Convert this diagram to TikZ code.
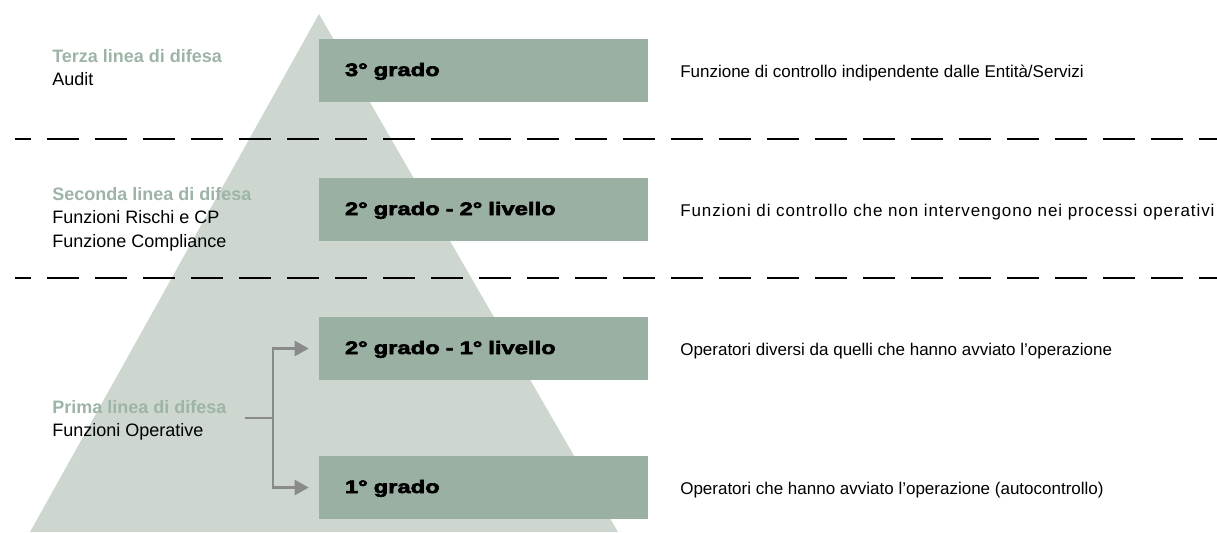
\documentclass[tikz,border=0pt]{standalone}
\usepackage{fontspec}
\setmainfont{Liberation Sans}
\newfontfamily\gradofont[BoldFeatures={FakeStretch=1.32,FakeBold=3.5}]{Liberation Sans}
\newfontfamily\largofont[LetterSpace=5.3]{Liberation Sans}
\usetikzlibrary{arrows.meta}
\definecolor{piramide}{HTML}{CDD7D0}
\definecolor{gradocol}{HTML}{9AB0A2}
\definecolor{lineacol}{HTML}{9DB4A6}
\definecolor{freccia}{HTML}{8A8A8A}

\begin{document}
\begin{tikzpicture}[x=0.75pt,y=-0.75pt,
    grado/.style={fill=gradocol,minimum height=47.25pt,text width=207.75pt,inner xsep=19.5pt,inner ysep=0pt,
      align=left,text height=9pt,text depth=0.75pt,font=\gradofont\bfseries\fontsize{13.5}{16}\selectfont},
    linea/.style={anchor=north west,inner sep=0pt,align=left,font=\fontsize{13.5}{17.6}\selectfont},
    descr/.style={anchor=base west,inner sep=0pt,font=\fontsize{12.75}{15}\selectfont},
    sep/.style={line width=2pt,dash pattern=on 24pt off 12pt,dash phase=12pt},
    fork/.style={draw=freccia,line width=1.8pt}]
      \useasboundingbox (0,0) rectangle (1217,532);
      \fill[piramide] (319,14) -- (618,532) -- (30,532) -- cycle;
      \draw[sep] (15,139) -- (1217,139);
      \draw[sep] (15,278) -- (1217,278);

      \node[grado] (g3) at (483.5,70.5) {3° grado};
      \node[grado] (g22) at (483.5,209.5) {2° grado - 2° livello};
      \node[grado] (g21) at (483.5,348.5) {2° grado - 1° livello};
      \node[grado] (g1) at (483.5,487.5) {1° grado};

      \node[descr] (d3) at (680,77.5) {Funzione di controllo indipendente dalle Entità/Servizi};
      \node[descr] (d22) at (680,216.5) {\largofont Funzioni di controllo che non intervengono nei processi operativi};
      \node[descr] (d21) at (680,355.5) {Operatori diversi da quelli che hanno avviato l’operazione};
      \node[descr] (d1) at (680,494.5) {Operatori che hanno avviato l’operazione (autocontrollo)};

      \node[linea] (terza) at (52,49) {\textcolor{lineacol}{\bfseries Terza linea di difesa}\\Audit};
      \node[linea] (seconda) at (52,187) {\textcolor{lineacol}{\bfseries Seconda linea di difesa}\\Funzioni Rischi e CP\\Funzione Compliance};
      \node[linea] (prima) at (52,400) {\textcolor{lineacol}{\bfseries Prima linea di difesa}\\Funzioni Operative};

      \coordinate (stub) at (245,418);
      \coordinate (fork) at (273,418);
      \draw[fork] (stub) -- (fork);
      \draw[fork,-{Triangle[length=10.5pt,width=11.25pt]}] (fork) |- ([xshift=-7.5pt]g21.west);
      \draw[fork,-{Triangle[length=10.5pt,width=11.25pt]}] (fork) |- ([xshift=-7.5pt]g1.west);
    \end{tikzpicture}
\end{document}
